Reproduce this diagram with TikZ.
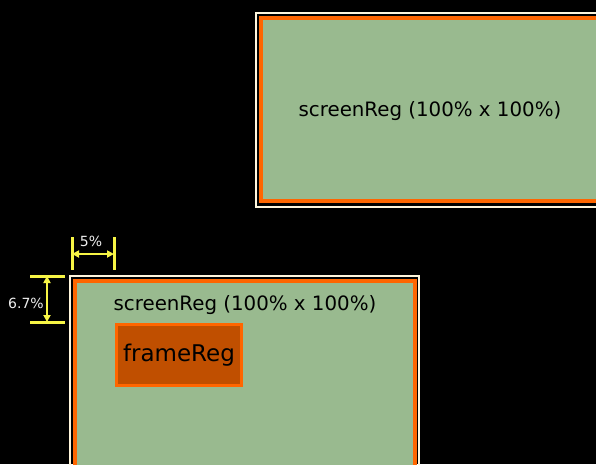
\documentclass[tikz,border=0pt]{standalone}
\usepackage{fontspec}
\setmainfont{DejaVu Sans}
\usetikzlibrary{arrows.meta}
\definecolor{bg}{HTML}{000000}
\definecolor{cream}{HTML}{FFF6DC}
\definecolor{orng}{HTML}{FF6600}
\definecolor{grn}{HTML}{99BA8F}
\definecolor{dorng}{HTML}{C04F00}
\definecolor{ylw}{HTML}{F7F545}
\definecolor{lbl}{HTML}{EEEEEE}
\tikzset{
  creamline/.style={draw=cream, line width=2pt},
  regtext/.style={text=black, font=\fontsize{19.8}{22}\selectfont, inner sep=0pt},
  frametext/.style={text=black, font=\fontsize{23}{26}\selectfont, inner sep=0pt},
  tick/.style={draw=ylw, line width=3pt},
  dimarrow/.style={draw=ylw, line width=2pt, {Triangle[width=7pt,length=7pt]}-{Triangle[width=7pt,length=7pt]}},
  dimtext/.style={text=lbl, font=\fontsize{14}{16}\selectfont, inner sep=0pt}
}
\begin{document}
\begin{tikzpicture}[x=1pt,y=-1pt]
\fill[bg] (0,0) rectangle (596,464);
\useasboundingbox (0,0) rectangle (596,464);
\clip (0,0) rectangle (596,464);
% top region
\draw[creamline] (256,13) rectangle (700,207);
\fill[orng] (259,16) rectangle (700,203);
\fill[grn] (263,20) rectangle (700,199);
\node[regtext] (top) at (430,111) {screenReg (100\% x 100\%)};
% bottom region
\draw[creamline] (70,275.5) rectangle (419,500);
\fill[orng] (73,279) rectangle (416.5,500);
\fill[grn] (77,283) rectangle (412.5,500);
\node[regtext] (bot) at (245,305) {screenReg (100\% x 100\%)};
\node[draw=orng, line width=3pt, fill=dorng, minimum width=125pt, minimum height=61pt, inner sep=0pt] (frame) at (179,355) {};
\node[frametext] (framet) at (frame.center) {frameReg};
% dimension 5%
\coordinate (h1t) at (72,237); \coordinate (h1b) at (72,270);
\coordinate (h2t) at (114,237); \coordinate (h2b) at (114,270);
\draw[tick] (h1t) -- (h1b);
\draw[tick] (h2t) -- (h2b);
\coordinate (ha) at (72,254); \coordinate (hb) at (114,254);
\draw[dimarrow] (ha) -- (hb);
\node[dimtext] (p5) at (91,241.5) {5\%};
% dimension 6.7%
\coordinate (v1l) at (30,276); \coordinate (v1r) at (65,276);
\coordinate (v2l) at (30,322); \coordinate (v2r) at (65,322);
\draw[tick] (v1l) -- (v1r);
\draw[tick] (v2l) -- (v2r);
\coordinate (va) at (47,276); \coordinate (vb) at (47,322);
\draw[dimarrow] (va) -- (vb);
\node[dimtext] (p67) at (26,303) {6.7\%};
\end{tikzpicture}
\end{document}
